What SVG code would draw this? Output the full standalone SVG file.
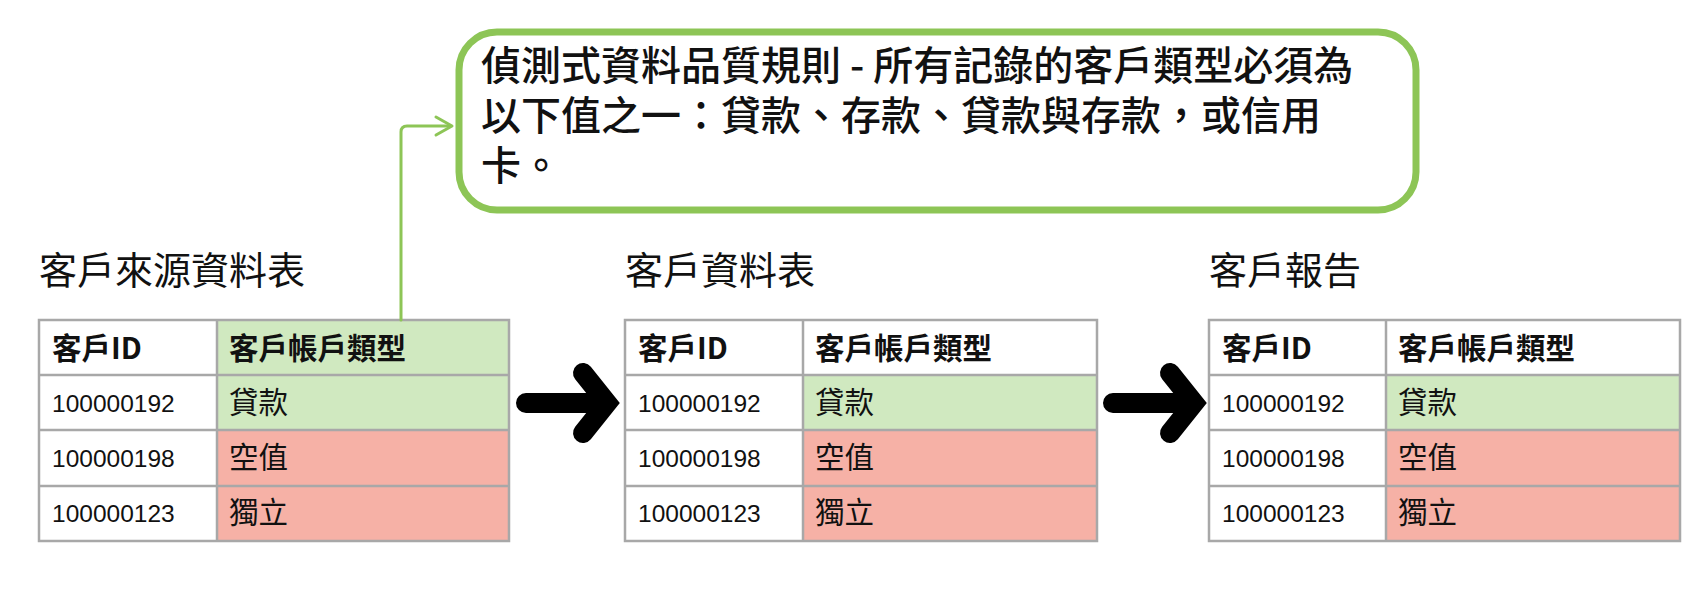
<svg xmlns="http://www.w3.org/2000/svg" width="1690" height="592" viewBox="0 0 1690 592">
<style>
.cjk{font-family:"Noto Sans CJK TC","Noto Sans CJK SC",sans-serif;fill:#111}
.title{font-size:38px}
.rule{font-size:40px;font-weight:500}
.hd{font-size:29.5px;font-weight:bold}
.cell{font-size:29.5px}
.num{font-family:"Liberation Sans",Arial,sans-serif;font-size:24.5px;fill:#111}
.grid{fill:none;stroke:#a8a8a8;stroke-width:2.5}
.white{fill:#ffffff}
.ok{fill:#d0e9c0}
.bad{fill:#f6b1a6}
.green{fill:none;stroke:#8dc556;stroke-width:3;stroke-linecap:round;stroke-linejoin:round}
.big{fill:none;stroke:#000;stroke-width:20;stroke-linecap:round;stroke-linejoin:miter}
</style>
<defs>
<g id="bigArrow">
<path class="big" d="M526,403 H600 M583,373 L607,403 L583,433"/>
</g>
</defs>
<rect width="1690" height="592" fill="#ffffff"/>

<g id="rule-box">
<rect x="459" y="32" width="957" height="178" rx="38" ry="38" fill="#ffffff" stroke="#8dc556" stroke-width="7"/>
<text class="cjk rule" x="481" y="80">偵測式資料品質規則 - 所有記錄的客戶類型必須為<tspan x="481" y="130">以下值之一：貸款、存款、貸款與存款，或信用</tspan><tspan x="481" y="180">卡。</tspan></text>
</g>

<g id="source-table">
<text class="cjk title" x="39" y="284">客戶來源資料表</text>
<rect class="white" x="39" y="320" width="178" height="221"/>
<rect class="ok" x="217" y="320" width="292" height="110"/>
<rect class="bad" x="217" y="430" width="292" height="111"/>
<path class="grid" d="M39,320 H509 V541 H39 Z M39,375 H509 M39,430 H509 M39,486 H509 M217,320 V541"/>
<text class="cjk hd" x="52" y="359">客戶ID</text>
<text class="cjk hd" x="229" y="359">客戶帳戶類型</text>
<text class="num" x="52" y="412">100000192</text>
<text class="num" x="52" y="467">100000198</text>
<text class="num" x="52" y="522">100000123</text>
<text class="cjk cell" x="229" y="413">貸款</text>
<text class="cjk cell" x="229" y="468">空值</text>
<text class="cjk cell" x="229" y="523">獨立</text>
</g>

<g id="customer-table">
<text class="cjk title" x="625" y="284">客戶資料表</text>
<rect class="white" x="625" y="320" width="472" height="221"/>
<rect class="ok" x="803" y="375" width="294" height="55"/>
<rect class="bad" x="803" y="430" width="294" height="111"/>
<path class="grid" d="M625,320 H1097 V541 H625 Z M625,375 H1097 M625,430 H1097 M625,486 H1097 M803,320 V541"/>
<text class="cjk hd" x="638" y="359">客戶ID</text>
<text class="cjk hd" x="815" y="359">客戶帳戶類型</text>
<text class="num" x="638" y="412">100000192</text>
<text class="num" x="638" y="467">100000198</text>
<text class="num" x="638" y="522">100000123</text>
<text class="cjk cell" x="815" y="413">貸款</text>
<text class="cjk cell" x="815" y="468">空值</text>
<text class="cjk cell" x="815" y="523">獨立</text>
</g>

<g id="report-table">
<text class="cjk title" x="1209" y="284">客戶報告</text>
<rect class="white" x="1209" y="320" width="471" height="221"/>
<rect class="ok" x="1386" y="375" width="294" height="55"/>
<rect class="bad" x="1386" y="430" width="294" height="111"/>
<path class="grid" d="M1209,320 H1680 V541 H1209 Z M1209,375 H1680 M1209,430 H1680 M1209,486 H1680 M1386,320 V541"/>
<text class="cjk hd" x="1222" y="359">客戶ID</text>
<text class="cjk hd" x="1398" y="359">客戶帳戶類型</text>
<text class="num" x="1222" y="412">100000192</text>
<text class="num" x="1222" y="467">100000198</text>
<text class="num" x="1222" y="522">100000123</text>
<text class="cjk cell" x="1398" y="413">貸款</text>
<text class="cjk cell" x="1398" y="468">空值</text>
<text class="cjk cell" x="1398" y="523">獨立</text>
</g>

<g id="connectors">
<path class="green" d="M401,320 V132 Q401,126 407,126 H450"/>
<path class="green" stroke-width="4" d="M436,117 L452,126 L436,135"/>
<use href="#bigArrow"/>
<use href="#bigArrow" transform="translate(587,0)"/>
</g>
</svg>
